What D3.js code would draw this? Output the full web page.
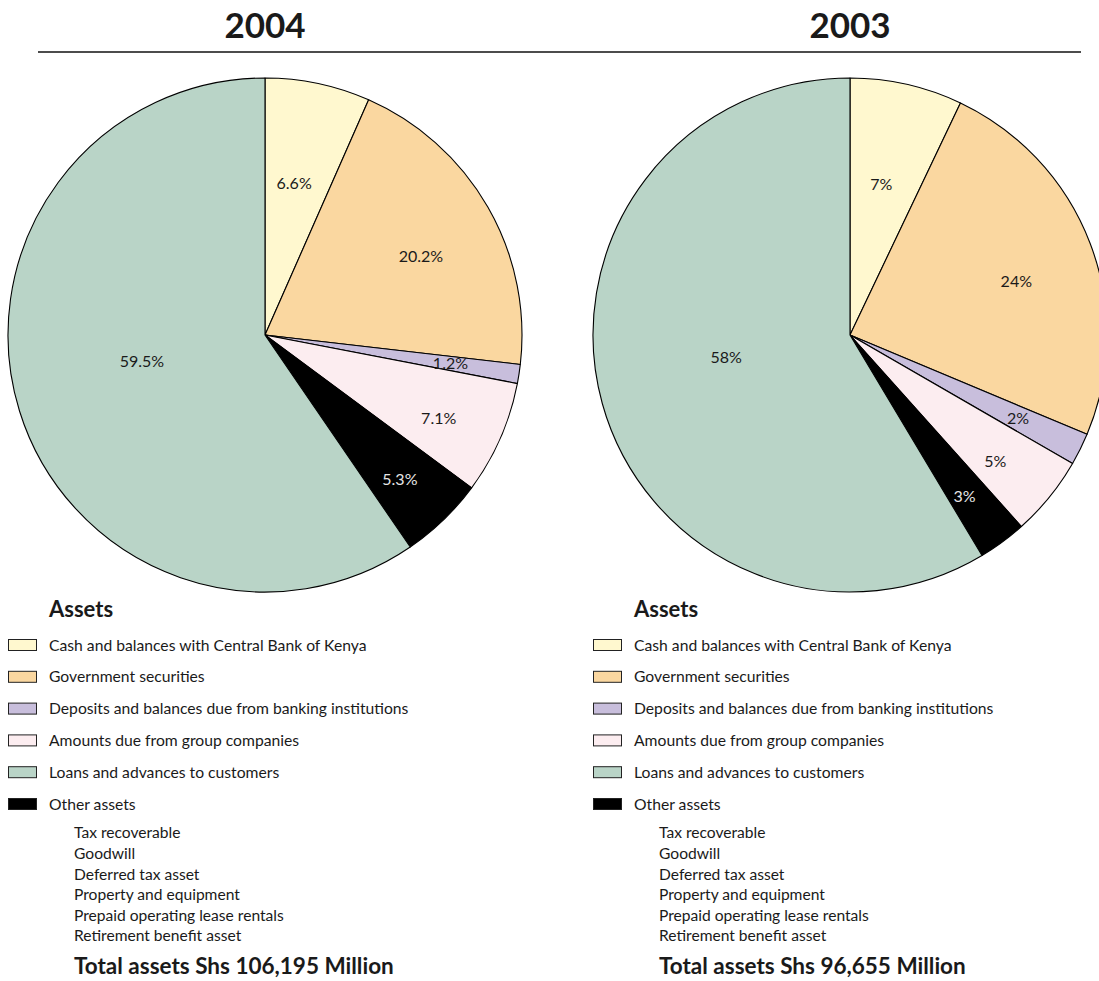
<!DOCTYPE html>
<html>
<head>
<meta charset="utf-8">
<script src="https://cdn.jsdelivr.net/npm/d3@7"></script>
<style>
  html, body { margin: 0; padding: 0; background: #fff; }
  svg { display: block; }
  text { font-family: Lato, "Open Sans", sans-serif; fill: #1a1a1a; }
</style>
</head>
<body>
<svg id="chart" width="1099" height="981"></svg>
<script>
// Asset categories, in clockwise order from 12 o'clock
const categories = [
  "Cash and balances with Central Bank of Kenya",
  "Government securities",
  "Deposits and balances due from banking institutions",
  "Amounts due from group companies",
  "Other assets",
  "Loans and advances to customers"
];
// Slice fills, aligned with categories
const colors = ["#fff8cf", "#fad7a0", "#c8bedc", "#fcedf0", "#000000", "#b9d4c7"];
// Legend order
const legendOrder = [
  "Cash and balances with Central Bank of Kenya",
  "Government securities",
  "Deposits and balances due from banking institutions",
  "Amounts due from group companies",
  "Loans and advances to customers",
  "Other assets"
];

const years = ["2004", "2003"];
const values2004 = [6.6, 20.2, 1.2, 7.1, 5.3, 59.5];
const values2003 = [7, 24, 2, 5, 3, 58];
const labels2004 = ["6.6%", "20.2%", "1.2%", "7.1%", "5.3%", "59.5%"];
const labels2003 = ["7%", "24%", "2%", "5%", "3%", "58%"];
const otherAssets = [
  "Tax recoverable",
  "Goodwill",
  "Deferred tax asset",
  "Property and equipment",
  "Prepaid operating lease rentals",
  "Retirement benefit asset"
];
const totals = ["Total assets Shs 106,195 Million", "Total assets Shs 96,655 Million"];

const panels = [
  { year: years[0], values: values2004, labels: labels2004, total: totals[0], cx: 265, lx: 0 },
  { year: years[1], values: values2003, labels: labels2003, total: totals[1], cx: 850, lx: 585 }
];

const svg = d3.select("#chart");
const color = d3.scaleOrdinal().domain(categories).range(colors);
const R = 257, CY = 335;
// radius (fraction of R) and small angular nudge (degrees) for each slice's percentage
const labelRadius = [0.6, 0.68, 0.73, 0.75, 0.77, 0.49];
const labelNudge = [-1, 3, 0, 2, 1, 5];

const pie = d3.pie().sort(null).value(d => d.value);
const arc = d3.arc().innerRadius(0).outerRadius(R);

// rule under the year headings
svg.append("line")
  .attr("x1", 38).attr("x2", 1081).attr("y1", 52).attr("y2", 52)
  .attr("stroke", "#111").attr("stroke-width", 1.6);

panels.forEach(p => {
  svg.append("text")
    .attr("x", p.cx).attr("y", 38)
    .attr("text-anchor", "middle")
    .style("font-size", "35px").style("font-weight", "700")
    .text(p.year);

  const data = categories.map((c, i) => ({ cat: c, value: p.values[i], label: p.labels[i], i }));
  const g = svg.append("g").attr("transform", `translate(${p.cx},${CY})`);
  const arcs = pie(data);

  g.selectAll("path")
    .data(arcs)
    .join("path")
    .attr("d", arc)
    .attr("fill", d => color(d.data.cat))
    .attr("stroke", "#000")
    .attr("stroke-width", 1.1)
    .attr("stroke-linejoin", "round");

  g.selectAll("text.pct")
    .data(arcs)
    .join("text")
    .attr("class", "pct")
    .attr("transform", d => {
      const a = (d.startAngle + d.endAngle) / 2 + labelNudge[d.data.i] * Math.PI / 180;
      const r = R * labelRadius[d.data.i];
      return `translate(${r * Math.sin(a)},${-r * Math.cos(a)})`;
    })
    .attr("text-anchor", "middle")
    .attr("dy", "0.35em")
    .style("font-size", "16px")
    .style("fill", d => d.data.cat === "Other assets" ? "#e6e6e6" : "#1a1a1a")
    .text(d => d.data.label);

  // legend
  const lg = svg.append("g").attr("transform", `translate(${p.lx},0)`);
  lg.append("text")
    .attr("x", 49).attr("y", 617)
    .style("font-size", "22px").style("font-weight", "700")
    .text("Assets");

  const rowY = d3.scalePoint().domain(legendOrder).range([645, 804]);
  const rows = lg.selectAll("g.row")
    .data(legendOrder)
    .join("g")
    .attr("class", "row")
    .attr("transform", d => `translate(0,${rowY(d)})`);
  rows.append("rect")
    .attr("x", 8.5).attr("y", -5.5).attr("width", 28).attr("height", 11)
    .attr("fill", d => color(d))
    .attr("stroke", "#222").attr("stroke-width", 1);
  rows.append("text")
    .attr("x", 49).attr("dy", "0.35em")
    .style("font-size", "15.7px")
    .text(d => d);

  const subY = d3.scalePoint().domain(otherAssets).range([833, 936]);
  lg.selectAll("text.sub")
    .data(otherAssets)
    .join("text")
    .attr("class", "sub")
    .attr("x", 74).attr("y", d => subY(d)).attr("dy", "0.35em")
    .style("font-size", "15.6px")
    .text(d => d);

  lg.append("text")
    .attr("x", 74).attr("y", 966).attr("dy", "0.35em")
    .style("font-size", "22.5px").style("font-weight", "700")
    .text(p.total);
});
</script>
</body>
</html>
